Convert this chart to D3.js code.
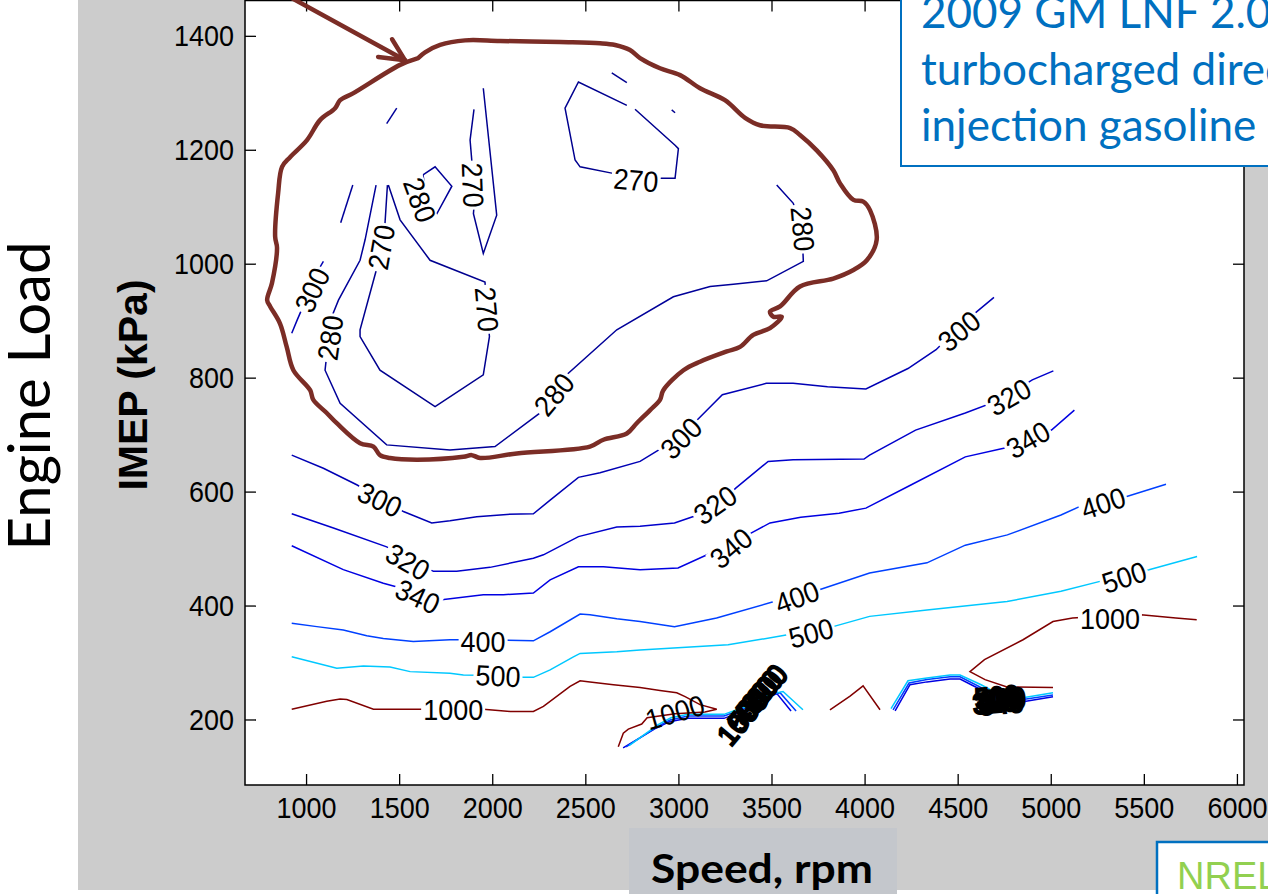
<!DOCTYPE html>
<meta charset="utf-8">
<head>
  <title>BSFC map - 2009 GM LNF 2.0L</title>
</head>
<style>
body { margin: 0; background: #fff; }
svg { display: block; }
.tick text, .clabel { font-family: "Liberation Sans", Arial, sans-serif; fill: #000; }
</style>
<body>
<div id="chart"></div>
<script src="https://cdnjs.cloudflare.com/ajax/libs/d3/7.8.5/d3.min.js"></script>
<script>
// axis limits and ticks (rpm, kPa)
var xLim = [672, 6038], yLim = [85, 1462]
var xTicks = [1000, 1500, 2000, 2500, 3000, 3500, 4000, 4500, 5000, 5500, 6000]
var yTicks = [200, 400, 600, 800, 1000, 1200, 1400]

// contour levels (g/kWh) and jet-like colours
var levels = [270, 280, 300, 320, 340, 400, 500, 1000]
var levelColors = ["#00008f", "#000099", "#0000b4", "#0000cc", "#0000e2", "#0040ff", "#00c8ff", "#800000"]

// contour pieces, [rpm, kPa]
var c270 = [
  [[1437,1138],[1424,1071],[1403,1031],[1380,992],[1290,884],[1290,872],[1397,813],[1693,749],[1952,805],[1985,872],[1972,922],[1961,968],[1666,1006],[1505,1077],[1442,1138]],
  [[1952,1308],[2024,1085],[1952,1018],[1899,1088],[1902,1100],[1897,1138],[1890,1182],[1881,1217],[1902,1271]],
  [[2767,1271],[2982,1208],[3000,1202],[2982,1150],[2892,1150],[2772,1145],[2642,1159],[2472,1170],[2445,1182],[2391,1273],[2463,1319],[2723,1278]],
  [[2642,1335],[2723,1318]],
  [[2964,1270],[2982,1265]]
]
var c280 = [
  [[1376,1138],[1317,1042],[1290,1006],[1174,936],[1138,907],[1129,870],[1107,828],[1102,813],[1183,755],[1433,682],[1773,673],[2015,679],[2257,738],[2332,771],[2400,805],[2669,884],[2973,942],[3170,960],[3295,964],[3474,970],[3671,1004],[3664,1059],[3617,1106],[3528,1138]],
  [[1628,1156],[1693,1170],[1783,1136],[1693,1082],[1650,1110],[1628,1156]],
  [[1433,1246],[1487,1273]],
  [[1186,1072],[1251,1138]]
]
var c300 = [
  [[923,664],[1093,641],[1272,612],[1397,589],[1523,565],[1675,545],[1773,549],[1917,556],[2078,560],[2221,561],[2311,585],[2463,625],[2579,633],[2794,653],[3009,696],[3102,726],[3236,770],[3472,790],[3616,790],[3801,784],[4007,780],[4233,816],[4384,849],[4502,887],[4603,916],[4695,941]],
  [[923,878],[952,901],[1022,954],[1066,989],[1093,1004]]
]
var c320 = [
  [[923,561],[1147,536],[1433,503],[1559,482],[1684,460],[1809,460],[1988,467],[2221,483],[2275,489],[2463,521],[2669,538],[2794,539],[2979,545],[3186,568],[3308,606],[3482,653],[3616,656],[3997,657],[4027,664],[4274,708],[4541,738],[4727,761],[4901,796],[5014,812]]
]
var c340 = [
  [[923,505],[1200,463],[1415,439],[1607,422],[1729,410],[1952,419],[2060,419],[2221,422],[2311,445],[2463,468],[2597,468],[2794,463],[2998,466],[3213,498],[3390,527],[3492,545],[3657,555],[3863,562],[4007,571],[4233,609],[4541,661],[4747,676],[4873,691],[5004,708],[5127,743]],
  [[2703,150],[2875,184],[2950,196],[3052,202],[3245,202],[3380,219],[3490,241],[3530,245],[3605,215]],
  [[4164,215],[4244,261],[4335,266],[4459,271],[4513,271],[4615,254],[4728,236],[4851,231],[5012,240]]
]
var c400 = [
  [[923,369],[1058,363],[1200,357],[1326,347],[1415,342],[1576,337],[1773,340],[1951,340],[2221,338],[2311,354],[2472,385],[2525,384],[2669,377],[2794,372],[2979,363],[3205,378],[3514,407],[3637,415],[3761,428],[4027,457],[4335,475],[4541,506],[4767,524],[5055,559],[5157,574],[5281,582],[5404,591],[5619,613]],
  [[2719,152],[2885,187],[2955,199],[3052,206],[3245,206],[3380,222],[3500,243],[3546,247],[3632,215]],
  [[4153,217],[4239,264],[4335,270],[4459,275],[4513,275],[4620,257],[4728,240],[4851,235],[5012,243]]
]
var c500 = [
  [[923,310],[1165,290],[1308,294],[1451,292],[1559,284],[1773,281],[1845,278],[2031,277],[2167,274],[2221,274],[2311,287],[2436,310],[2472,316],[2669,319],[2794,322],[3267,331],[3594,349],[3712,352],[3831,363],[4027,381],[4335,392],[4765,407],[5055,425],[5259,442],[5394,454],[5528,463],[5786,486]],
  [[2735,154],[2891,191],[2960,203],[3052,209],[3245,209],[3380,225],[3500,245],[3562,249],[3669,217]],
  [[4142,219],[4233,268],[4335,273],[4459,278],[4513,278],[4626,261],[4728,243],[4851,238],[5012,247]]
]
var c1000 = [
  [[923,218],[1111,232],[1183,236],[1219,235],[1362,218],[1630,218],[1952,218],[2096,214],[2221,214],[2275,223],[2418,258],[2472,268],[2525,266],[2651,261],[2794,256],[2901,251],[2991,247],[3036,240],[3116,226],[3206,218],[3143,213],[2982,210],[2832,203],[2803,192],[2731,183],[2704,176],[2677,152]],
  [[3814,217],[3922,241],[3992,259],[4083,217]],
  [[5012,256],[4765,257],[4647,270],[4566,284],[4644,305],[4851,340],[5012,372],[5117,378],[5318,382],[5485,384],[5672,378],[5784,375]]
]

// inline contour labels: text, rpm, kPa, angle
var labels = [
  ["270",1403,1029,-80], ["270",1972,920,85], ["270",1897,1138,88], ["270",2772,1147,5],
  ["280",1129,870,-82], ["280",1612,1112,70], ["280",2332,771,-50], ["280",3669,1061,85],
  ["300",1032,954,-65], ["300",1397,586,25], ["300",3014,694,-45], ["300",4507,882,-40],
  ["320",1548,477,30], ["320",3197,577,-35], ["320",4776,766,-30],
  ["340",1600,416,25], ["340",3283,501,-40], ["340",4878,691,-30],
  ["400",1951,337,0], ["400",3637,415,-20], ["400",5281,580,-18],
  ["500",2031,277,3], ["500",3712,352,-15], ["500",5394,450,-18],
  ["1000",1790,218,0], ["1000",5318,378,0]
]
// piled-up labels where the contours crowd together
var pileA = [["1000",3342,203],["500",3374,217],["400",3395,228],["340",3422,238],["320",3449,249],["300",3476,259]]
var pileB = [["500",4711,240],["400",4722,235],["340",4733,229],["320",4701,231],["300",4744,236]]
var pileA1000 = ["1000",2982,213,-16]

// hand-drawn annotation (rpm, kPa)
var outline = [[1602,1361],[1505,1349],[1252,1299],[1183,1287],[1156,1273],[1075,1252],[1005,1217],[914,1187],[871,1170],[850,1124],[834,1047],[844,1028],[817,966],[791,936],[807,925],[860,895],[896,854],[932,813],[1022,778],[1039,761],[1111,738],[1165,720],[1290,685],[1362,679],[1397,664],[1451,659],[1595,656],[1845,661],[1890,664],[1935,659],[2132,667],[2525,679],[2597,691],[2723,702],[2776,720],[2848,743],[2901,761],[2919,778],[3027,813],[3116,828],[3260,846],[3331,854],[3402,875],[3492,887],[3555,907],[3510,907],[3492,916],[3546,925],[3653,960],[3832,974],[3940,989],[4012,1006],[4065,1042],[4029,1094],[3993,1109],[3940,1112],[3868,1141],[3832,1164],[3743,1199],[3653,1226],[3600,1238],[3438,1243],[3358,1256],[3250,1287],[3116,1308],[3009,1331],[2901,1343],[2794,1361],[2740,1375],[2660,1384],[2579,1387],[2364,1389],[2042,1391],[1854,1392],[1720,1384],[1639,1371],[1602,1361]]
var arrowShaft = [[930,1465],[1532,1357]]
var arrowHead = [[1387,1363],[1532,1357],[1462,1394]]

var titleLines = ["2009 GM LNF 2.0L", "turbocharged direct", "injection gasoline"]

var W = 1268, H = 894
var svg = d3.select("#chart").append("svg").attr("width", W).attr("height", H)

// grey figure background
svg.append("rect").attr("x", 78).attr("y", 0).attr("width", W - 78).attr("height", 890).attr("fill", "#cccccc")

var x = d3.scaleLinear().domain(xLim).range([245, 1244])
var y = d3.scaleLinear().domain(yLim).range([785, 0.5])

svg.append("rect")
  .attr("x", x(xLim[0])).attr("y", y(yLim[1]))
  .attr("width", x(xLim[1]) - x(xLim[0])).attr("height", y(yLim[0]) - y(yLim[1]))
  .attr("fill", "#fff")

svg.append("clipPath").attr("id", "plotclip").append("rect")
  .attr("x", x(xLim[0])).attr("y", y(yLim[1]))
  .attr("width", x(xLim[1]) - x(xLim[0])).attr("height", y(yLim[0]) - y(yLim[1]))

var plot = svg.append("g").attr("clip-path", "url(#plotclip)")
var line = d3.line().x(function(d) { return x(d[0]) }).y(function(d) { return y(d[1]) })

var contours = [c270, c280, c300, c320, c340, c400, c500, c1000]
contours.forEach(function(pieces, i) {
  plot.append("g").selectAll("path").data(pieces).enter().append("path")
    .attr("d", line)
    .attr("fill", "none")
    .attr("stroke", levelColors[i])
    .attr("stroke-width", 1.5)
})

function digitLen(t) { return t.length * 15 }

// labels with a gap cut in the line
var lab = plot.append("g").selectAll("g").data(labels).enter().append("g")
  .attr("transform", function(d) { return "translate(" + x(d[1]) + "," + y(d[2]) + ") rotate(" + d[3] + ")" })
lab.append("rect")
  .attr("x", function(d) { return -digitLen(d[0]) / 2 - 2 })
  .attr("y", -11).attr("height", 22)
  .attr("width", function(d) { return digitLen(d[0]) + 4 })
  .attr("fill", "#fff")
lab.append("text").attr("class", "clabel")
  .attr("text-anchor", "middle").attr("dy", "0.36em")
  .attr("font-size", 29)
  .attr("textLength", function(d) { return digitLen(d[0]) })
  .attr("lengthAdjust", "spacingAndGlyphs")
  .text(function(d) { return d[0] })

function pile(data, angle) {
  plot.append("g").selectAll("text").data(data).enter().append("text")
    .attr("class", "clabel")
    .attr("transform", function(d) { return "translate(" + x(d[1]) + "," + y(d[2]) + ") rotate(" + angle + ")" })
    .attr("text-anchor", "middle").attr("dy", "0.36em")
    .attr("font-size", 29)
    .attr("stroke", "#000").attr("stroke-width", 2.2)
    .attr("textLength", function(d) { return digitLen(d[0]) })
    .attr("lengthAdjust", "spacingAndGlyphs")
    .text(function(d) { return d[0] })
}
pile(pileA, -50)
pile(pileB, -5)
plot.append("text").attr("class", "clabel")
  .attr("transform", "translate(" + x(pileA1000[1]) + "," + y(pileA1000[2]) + ") rotate(" + pileA1000[3] + ")")
  .attr("text-anchor", "middle").attr("dy", "0.36em").attr("font-size", 29)
  .attr("textLength", 60).attr("lengthAdjust", "spacingAndGlyphs")
  .text(pileA1000[0])

// axes, ticks inside on all four sides
function styleTicks(g) {
  g.select(".domain").remove()
  g.selectAll(".tick line").attr("stroke", "#000").attr("stroke-width", 1.3)
  g.selectAll(".tick text")
    .attr("font-size", 30)
    .attr("textLength", function(d) { return String(d).length * 15 })
    .attr("lengthAdjust", "spacingAndGlyphs")
}
svg.append("g").attr("transform", "translate(0," + y(yLim[0]) + ")")
  .call(d3.axisBottom(x).tickValues(xTicks).tickSize(-11).tickPadding(12).tickFormat(d3.format("d")))
  .call(styleTicks)
svg.append("g").attr("transform", "translate(" + x(xLim[0]) + ",0)")
  .call(d3.axisLeft(y).tickValues(yTicks).tickSize(-11).tickPadding(11).tickFormat(d3.format("d")))
  .call(styleTicks)
svg.append("g").attr("transform", "translate(0," + y(yLim[1]) + ")")
  .call(d3.axisTop(x).tickValues(xTicks).tickSize(-11).tickFormat(""))
  .call(styleTicks)
svg.append("g").attr("transform", "translate(" + x(xLim[1]) + ",0)")
  .call(d3.axisRight(y).tickValues(yTicks).tickSize(-11).tickFormat(""))
  .call(styleTicks)

svg.append("rect")
  .attr("x", x(xLim[0])).attr("y", y(yLim[1]))
  .attr("width", x(xLim[1]) - x(xLim[0])).attr("height", y(yLim[0]) - y(yLim[1]))
  .attr("fill", "none").attr("stroke", "#000").attr("stroke-width", 1.5)

// hand-drawn outline and arrow
var brown = "#7b2d26"
var free = d3.line().x(function(d) { return x(d[0]) }).y(function(d) { return y(d[1]) }).curve(d3.curveCatmullRom.alpha(0.5))
svg.append("path").attr("d", free(outline))
  .attr("fill", "none").attr("stroke", brown).attr("stroke-width", 4.5)
  .attr("stroke-linejoin", "round").attr("stroke-linecap", "round")
svg.append("path").attr("d", line(arrowShaft))
  .attr("fill", "none").attr("stroke", brown).attr("stroke-width", 4.5).attr("stroke-linecap", "round")
svg.append("path").attr("d", line(arrowHead))
  .attr("fill", "none").attr("stroke", brown).attr("stroke-width", 4.5)
  .attr("stroke-linecap", "round").attr("stroke-linejoin", "round")

// axis titles
svg.append("text")
  .attr("transform", "translate(147,385) rotate(-90)")
  .attr("text-anchor", "middle")
  .attr("font-family", "'Liberation Sans', Arial, sans-serif")
  .attr("font-weight", "bold").attr("font-size", 41)
  .text("IMEP (kPa)")
svg.append("text")
  .attr("transform", "translate(50,396) rotate(-90)")
  .attr("text-anchor", "middle")
  .attr("font-family", "Lato, sans-serif")
  .attr("font-size", 58)
  .text("Engine Load")

svg.append("rect").attr("x", 629).attr("y", 828).attr("width", 268).attr("height", 66).attr("fill", "#c4c7cc")
svg.append("text")
  .attr("x", 762).attr("y", 883)
  .attr("text-anchor", "middle")
  .attr("font-family", "Lato, sans-serif")
  .attr("font-weight", "bold").attr("font-size", 41)
  .attr("textLength", 222).attr("lengthAdjust", "spacingAndGlyphs")
  .text("Speed, rpm")

// title box top right
svg.append("rect").attr("x", 901).attr("y", -3).attr("width", 400).attr("height", 169)
  .attr("fill", "#fff").attr("stroke", "#0070c0").attr("stroke-width", 2)
svg.append("g").selectAll("text").data(titleLines).enter().append("text")
  .attr("x", 921)
  .attr("y", function(d, i) { return 28 + i * 56.5 })
  .attr("font-family", "Lato, sans-serif")
  .attr("font-size", 44)
  .attr("fill", "#0070c0")
  .text(function(d) { return d })

// NREL tag
svg.append("rect").attr("x", 1157).attr("y", 842).attr("width", 130).attr("height", 60)
  .attr("fill", "#fff").attr("stroke", "#0070c0").attr("stroke-width", 2.5)
svg.append("text")
  .attr("x", 1177).attr("y", 889)
  .attr("font-family", "'Liberation Sans', Arial, sans-serif")
  .attr("font-size", 38)
  .attr("fill", "#92d050")
  .text("NREL")
</script>
</body>
</html>
